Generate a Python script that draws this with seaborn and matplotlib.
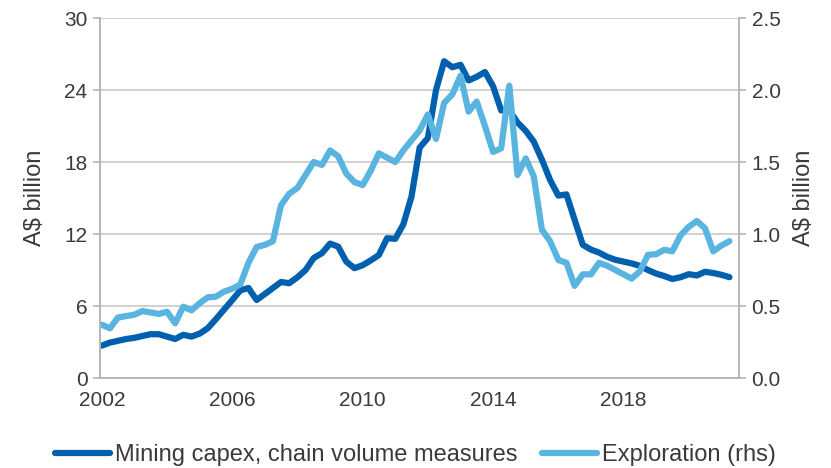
import pandas as pd
import numpy as np
import matplotlib
matplotlib.use("Agg")
import matplotlib.pyplot as plt
import seaborn as sns

# --- Data (quarterly, Dec-2001 to Mar-2021) ---
quarters = pd.date_range("2001-12-31", periods=78, freq="QE")

mining_capex = [
    2.7, 2.95, 3.1, 3.25, 3.35, 3.5, 3.65, 3.65, 3.45, 3.25,
    3.6, 3.45, 3.7, 4.15, 4.9, 5.7, 6.5, 7.3, 7.5, 6.5,
    7.0, 7.5, 8.0, 7.9, 8.4, 9.0, 10.0, 10.4, 11.2, 10.95,
    9.7, 9.15, 9.4, 9.8, 10.25, 11.65, 11.6, 12.8, 15.1, 19.2,
    20.0, 24.0, 26.4, 25.9, 26.1, 24.8, 25.1, 25.5, 24.3, 22.3,
    22.3, 21.3, 20.6, 19.7, 18.2, 16.5, 15.2, 15.3, 13.2, 11.1,
    10.7, 10.45, 10.1, 9.85, 9.7, 9.55, 9.35, 9.0, 8.7, 8.5,
    8.25, 8.4, 8.65, 8.55, 8.85, 8.75, 8.6, 8.4,
]

exploration = [
    0.37, 0.345, 0.42, 0.43, 0.44, 0.465, 0.455, 0.445, 0.46, 0.38,
    0.495, 0.47, 0.52, 0.56, 0.565, 0.60, 0.62, 0.65, 0.80, 0.91,
    0.925, 0.95, 1.20, 1.28, 1.32, 1.41, 1.50, 1.48, 1.58, 1.54,
    1.42, 1.36, 1.34, 1.44, 1.56, 1.53, 1.50, 1.58, 1.65, 1.72,
    1.83, 1.66, 1.91, 1.97, 2.10, 1.85, 1.92, 1.75, 1.57, 1.595,
    2.03, 1.41, 1.525, 1.40, 1.03, 0.95, 0.82, 0.80, 0.64, 0.72,
    0.72, 0.80, 0.78, 0.75, 0.72, 0.69, 0.74, 0.855, 0.86, 0.89,
    0.88, 0.99, 1.05, 1.09, 1.04, 0.88, 0.92, 0.95,
]

left_ticks = [0, 6, 12, 18, 24, 30]
right_ticks = [0.0, 0.5, 1.0, 1.5, 2.0, 2.5]
year_ticks = ["2002", "2006", "2010", "2014", "2018"]

df = pd.DataFrame({"date": quarters, "capex": mining_capex, "expl": exploration})

# --- Style ---
sns.set_style("white")
plt.rcParams["font.family"] = ["Liberation Sans", "DejaVu Sans"]
TEXT = "#3a3a3a"
GRID = "#c9c9c9"
DARK = "#0060ae"
LIGHT = "#5ab4e0"

fig, ax = plt.subplots(figsize=(8.31, 4.68), dpi=100)
fig.subplots_adjust(left=0.1203, right=0.8893, top=0.9615, bottom=0.1923)
ax2 = ax.twinx()

sns.lineplot(data=df, x="date", y="capex", ax=ax, color=DARK, lw=3.8,
             label="Mining capex, chain volume measures", legend=False)
sns.lineplot(data=df, x="date", y="expl", ax=ax2, color=LIGHT, lw=3.8,
             label="Exploration (rhs)", legend=False)

ax.set_ylim(0, 30)
ax2.set_ylim(0, 2.5)
ax.set_yticks(left_ticks)
ax.set_yticklabels([str(t) for t in left_ticks])
ax2.set_yticks(right_ticks)
ax2.set_yticklabels([f"{t:.1f}" for t in right_ticks])

ax.set_xlim(pd.Timestamp("2001-12-10"), pd.Timestamp("2021-07-16"))
ax.set_xticks(pd.to_datetime([f"{y}-01-01" for y in year_ticks]))
ax.set_xticklabels(year_ticks)

ax.grid(axis="y", color=GRID, lw=1.2)
ax.set_axisbelow(True)

for a in (ax, ax2):
    a.spines["top"].set_visible(False)
    for side in ("left", "right", "bottom"):
        a.spines[side].set_color("#b5b5b5")
        a.spines[side].set_linewidth(1.2)
    a.tick_params(colors="#b5b5b5", labelcolor=TEXT, labelsize=15,
                  length=5, width=1.2, direction="out", pad=4)

ax.set_xlabel("")
ax.set_ylabel("A$ billion", fontsize=17, color=TEXT, labelpad=13)
ax2.set_ylabel("A$ billion", fontsize=17, color=TEXT, labelpad=9)

h1, l1 = ax.get_legend_handles_labels()
h2, l2 = ax2.get_legend_handles_labels()
for h in h1 + h2:
    h.set_linewidth(4.5)
fig.legend(h1 + h2, l1 + l2, loc="lower center", ncol=2, frameon=False,
           bbox_to_anchor=(0.5, -0.041), fontsize=17, handlelength=2.33,
           handletextpad=0.2, columnspacing=1.05, labelcolor=TEXT)

fig.savefig("out.png", dpi=100)
